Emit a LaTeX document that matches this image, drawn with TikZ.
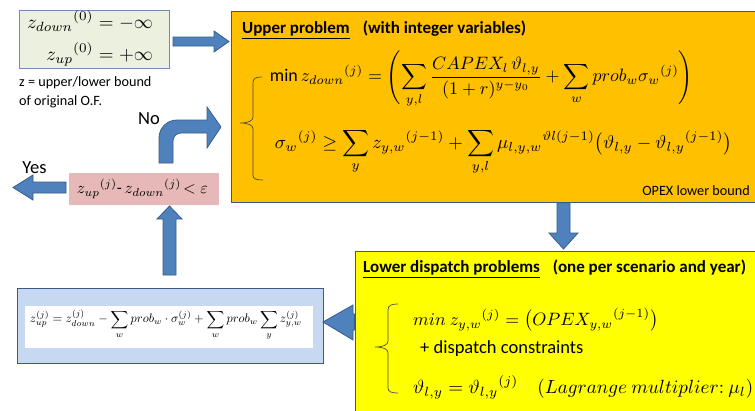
\documentclass[tikz,border=0pt]{standalone}
\usepackage{amsmath}
\usepackage{fontspec}
\setmainfont{Carlito}
\usepackage{graphicx}
\definecolor{arrowfill}{RGB}{79,129,189}
\definecolor{arrowdraw}{RGB}{56,93,138}
\definecolor{orangebox}{RGB}{255,192,0}
\definecolor{yellowbox}{RGB}{255,255,0}
\definecolor{greenbox}{RGB}{235,241,222}
\definecolor{greenline}{RGB}{110,140,180}
\definecolor{bluebox}{RGB}{198,217,241}
\definecolor{pinkbox}{RGB}{230,185,184}
\definecolor{boxline}{RGB}{60,90,135}
\newcommand\fitw[2]{\resizebox{#1}{!}{$\displaystyle #2$}}
\tikzset{
  boxstyle/.style={rectangle, inner sep=0pt, anchor=north west, line width=1.2pt},
  blockarrow/.style={fill=arrowfill, draw=arrowdraw, line width=0.8pt, line join=miter},
  bracestyle/.style={draw=black!70, line width=0.7pt},
  txt/.style={font=\fontsize{14.2}{17}\selectfont, inner sep=0pt},
  bigtxt/.style={font=\fontsize{18.5}{22}\selectfont, inner sep=0pt},
  ttl/.style={font=\fontsize{17}{20}\selectfont\bfseries, inner sep=0pt},
  eq/.style={inner sep=0pt},
}
\begin{document}
\begin{tikzpicture}[x=1pt,y=-1pt]
\useasboundingbox (0,0) rectangle (755,410);
\clip (0,0) rectangle (755,410);
\fill[white] (0,0) rectangle (755,410);

% boxes
\node[boxstyle, draw=boxline, fill=orangebox, minimum width=560pt, minimum height=191pt] (upper) at (231,11) {};
\node[boxstyle, draw=boxline, fill=yellowbox, minimum width=420pt, minimum height=180pt] (lower) at (355,251) {};
\node[boxstyle, draw=greenline, fill=greenbox, minimum width=150pt, minimum height=58pt] (init) at (19,10) {};
\node[boxstyle, draw=boxline, fill=bluebox, minimum width=306pt, minimum height=75pt] (update) at (17,288) {};
\node[boxstyle, fill=white, minimum width=288pt, minimum height=42pt] (updatein) at (24,305) {};
\node[boxstyle, fill=pinkbox, minimum width=150pt, minimum height=32pt] (check) at (68,172) {};

% block arrows
\filldraw[blockarrow] (173,37) -- (214,37) -- (214,31) -- (229,41.5) -- (214,52) -- (214,46) -- (173,46) -- cycle;
\filldraw[blockarrow] (557,202.6) -- (570,202.6) -- (570,233) -- (578,233) -- (563.5,249) -- (549,233) -- (557,233) -- cycle;
\filldraw[blockarrow] (354.4,314) -- (353,314) -- (353,305) -- (323,322) -- (353,340) -- (353,330) -- (354.4,330) -- cycle;
\filldraw[blockarrow] (163,275) -- (163,219) -- (157,219) -- (169.5,206) -- (182,219) -- (176,219) -- (176,275) -- cycle;
\filldraw[blockarrow] (66,182) -- (33,182) -- (33,175) -- (13,187.5) -- (33,200) -- (33,193) -- (66,193) -- cycle;
\filldraw[blockarrow] (159,163) -- (159,138) .. controls (159,128) and (167,120) .. (177,120) -- (207,120) -- (207,107) -- (221,127) -- (207,148) -- (207,133) -- (181,133) .. controls (176.5,133) and (173,136.5) .. (173,141) -- (173,163) -- cycle;

% braces
\draw[bracestyle] (262,77) .. controls (256,77) and (253,78) .. (253,83) -- (253,117) .. controls (253,121) and (248,123) .. (240,123) .. controls (248,123) and (253,125) .. (253,129) -- (253,175) .. controls (253,179) and (256,180) .. (263,180);
\draw[bracestyle] (398,304) .. controls (392,304) and (388,305) .. (388,310) -- (388,341) .. controls (388,345) and (383,347) .. (375,347) .. controls (383,347) and (388,349) .. (388,353) -- (388,388) .. controls (388,392) and (392,393) .. (398,393);

% texts
\node[eq] (initeq) at (90,39) {\resizebox{126pt}{!}{$\begin{aligned}{z_{down}}^{(0)} &= -\infty\\ {z_{up}}^{(0)} &= +\infty\end{aligned}$}};
\node[txt, anchor=base west] (note1) at (19,86) {z = upper/lower bound};
\node[txt, anchor=base west] (note2) at (19,105) {of original O.F.};

\node[ttl, anchor=base west] (uptitle) at (242,33) {\underline{Upper problem}\hspace{13pt}(with integer variables)};
\node[eq] (upeq1) at (481.5,79) {\fitw{423pt}{\min {z_{down}}^{(j)} = \Biggl(\sum_{y,l}\frac{CAPEX_l\,\vartheta_{l,y}}{(1+r)^{y-y_0}} + \sum_{w} prob_w {\sigma_w}^{(j)}\Biggr)}};
\node[eq] (upeq2) at (503.5,152) {\fitw{457pt}{{\sigma_w}^{(j)} \geq \sum_{y} {z_{y,w}}^{(j-1)} + \sum_{y,l} {\mu_{l,y,w}}^{\vartheta l(j-1)} \bigl(\vartheta_{l,y} - {\vartheta_{l,y}}^{(j-1)}\bigr)}};
\node[txt, anchor=base east] (opexlb) at (750,195) {OPEX lower bound};

\node[ttl, anchor=base west] (lowtitle) at (363,272) {\underline{Lower dispatch problems}\hspace{13pt}(one per scenario and year)};
\node[eq, anchor=west] (loweq1) at (413,320) {\fitw{245pt}{min\ {z_{y,w}}^{(j)} = \bigl({OPEX_{y,w}}^{(j-1)}\bigr)}};
\node[bigtxt, anchor=base west] (dispc) at (420,353) {+ dispatch constraints};
\node[eq, anchor=west] (loweq2) at (413,387) {\fitw{340pt}{\vartheta_{l,y} = {\vartheta_{l,y}}^{(j)}\quad (Lagrange\ multiplier{:}\ \mu_l)}};

\node[eq] (updeq) at (166,325) {\fitw{272pt}{z_{up}^{(j)} = z_{down}^{(j)} - \sum_{w} prob_w\cdot\sigma_w^{(j)} + \sum_{w} prob_w \sum_{y} z_{y,w}^{(j)}}};
\node[eq] (checkeq) at (142.5,189) {\resizebox{131pt}{!}{${z_{up}}^{(j)}\text{-}\,{z_{down}}^{(j)}\!< \varepsilon$}};

\node[bigtxt] (yes) at (34.5,168) {Yes};
\node[bigtxt] (no) at (149,119) {No};
\end{tikzpicture}
\end{document}
